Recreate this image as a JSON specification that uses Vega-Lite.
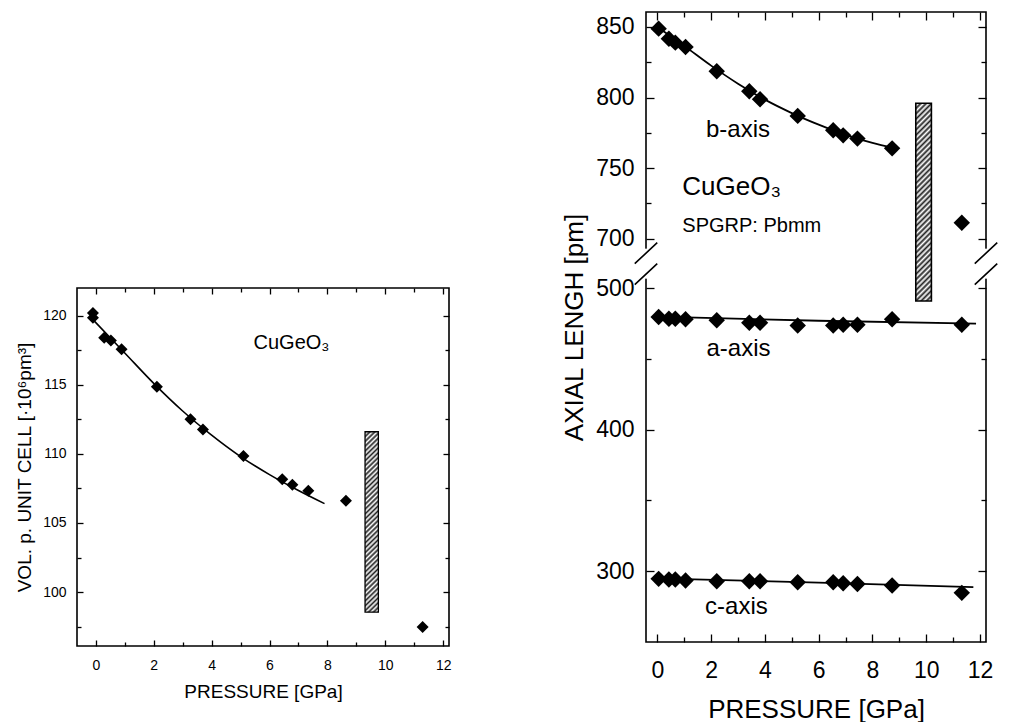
{
  "$schema": "https://vega.github.io/schema/vega-lite/v6.json",
  "background": "white",
  "padding": {"left": 14, "top": 10, "right": 0, "bottom": 0},
  "config": {
    "font": "Liberation Sans",
    "view": {"stroke": "black", "strokeWidth": 1.6},
    "axis": {"grid": false, "domain": false, "tickColor": "black", "tickWidth": 1.3, "labelColor": "black", "titleColor": "black", "titleFontWeight": "normal", "labelFont": "Liberation Sans", "titleFont": "Liberation Sans"},
    "text": {"font": "Liberation Sans", "color": "black"}
  },
  "hconcat": [
    {
      "spacing": 10,
      "vconcat": [
        {"width": 372, "height": 264, "view": {"stroke": null}, "data": {"values": []}, "mark": "text", "encoding": {}},
        {
          "width": 372, "height": 358,
          "resolve": {"axis": {"x": "independent", "y": "independent"}},
          "layer": [
            {
              "data": {"values": [{"P1": 9.3, "P2": 9.76, "V1": 98.55, "V2": 111.6}]},
              "mark": {"type": "rect", "stroke": "black", "strokeWidth": 1.3, "fill": {"gradient": "linear", "x1": 0, "y1": 0, "x2": 0.077, "y2": 1.067, "stops": [
                {"offset": 0, "color": "#222"}, {"offset": 0.0125, "color": "#fff"}, {"offset": 0.025, "color": "#222"}, {"offset": 0.0375, "color": "#fff"}, {"offset": 0.05, "color": "#222"}, {"offset": 0.0625, "color": "#fff"}, {"offset": 0.075, "color": "#222"}, {"offset": 0.0875, "color": "#fff"}, {"offset": 0.1, "color": "#222"}, {"offset": 0.1125, "color": "#fff"}, {"offset": 0.125, "color": "#222"}, {"offset": 0.1375, "color": "#fff"}, {"offset": 0.15, "color": "#222"}, {"offset": 0.1625, "color": "#fff"}, {"offset": 0.175, "color": "#222"}, {"offset": 0.1875, "color": "#fff"}, {"offset": 0.2, "color": "#222"}, {"offset": 0.2125, "color": "#fff"}, {"offset": 0.225, "color": "#222"}, {"offset": 0.2375, "color": "#fff"}, {"offset": 0.25, "color": "#222"}, {"offset": 0.2625, "color": "#fff"}, {"offset": 0.275, "color": "#222"}, {"offset": 0.2875, "color": "#fff"}, {"offset": 0.3, "color": "#222"}, {"offset": 0.3125, "color": "#fff"}, {"offset": 0.325, "color": "#222"}, {"offset": 0.3375, "color": "#fff"}, {"offset": 0.35, "color": "#222"}, {"offset": 0.3625, "color": "#fff"}, {"offset": 0.375, "color": "#222"}, {"offset": 0.3875, "color": "#fff"}, {"offset": 0.4, "color": "#222"}, {"offset": 0.4125, "color": "#fff"}, {"offset": 0.425, "color": "#222"}, {"offset": 0.4375, "color": "#fff"}, {"offset": 0.45, "color": "#222"}, {"offset": 0.4625, "color": "#fff"}, {"offset": 0.475, "color": "#222"}, {"offset": 0.4875, "color": "#fff"}, {"offset": 0.5, "color": "#222"}, {"offset": 0.5125, "color": "#fff"}, {"offset": 0.525, "color": "#222"}, {"offset": 0.5375, "color": "#fff"}, {"offset": 0.55, "color": "#222"}, {"offset": 0.5625, "color": "#fff"}, {"offset": 0.575, "color": "#222"}, {"offset": 0.5875, "color": "#fff"}, {"offset": 0.6, "color": "#222"}, {"offset": 0.6125, "color": "#fff"}, {"offset": 0.625, "color": "#222"}, {"offset": 0.6375, "color": "#fff"}, {"offset": 0.65, "color": "#222"}, {"offset": 0.6625, "color": "#fff"}, {"offset": 0.675, "color": "#222"}, {"offset": 0.6875, "color": "#fff"}, {"offset": 0.7, "color": "#222"}, {"offset": 0.7125, "color": "#fff"}, {"offset": 0.725, "color": "#222"}, {"offset": 0.7375, "color": "#fff"}, {"offset": 0.75, "color": "#222"}, {"offset": 0.7625, "color": "#fff"}, {"offset": 0.775, "color": "#222"}, {"offset": 0.7875, "color": "#fff"}, {"offset": 0.8, "color": "#222"}, {"offset": 0.8125, "color": "#fff"}, {"offset": 0.825, "color": "#222"}, {"offset": 0.8375, "color": "#fff"}, {"offset": 0.85, "color": "#222"}, {"offset": 0.8625, "color": "#fff"}, {"offset": 0.875, "color": "#222"}, {"offset": 0.8875, "color": "#fff"}, {"offset": 0.9, "color": "#222"}, {"offset": 0.9125, "color": "#fff"}, {"offset": 0.925, "color": "#222"}, {"offset": 0.9375, "color": "#fff"}, {"offset": 0.95, "color": "#222"}, {"offset": 0.9625, "color": "#fff"}, {"offset": 0.975, "color": "#222"}, {"offset": 0.9875, "color": "#fff"}, {"offset": 1, "color": "#222"}]}},
              "encoding": {
                "x": {"field": "P1", "type": "quantitative", "scale": {"domain": [-0.65, 12.2], "nice": false, "zero": false}, "axis": {"orient": "top", "values": [0, 2, 4, 6, 8, 10, 12], "tickSize": -6, "labels": false, "title": null}},
                "x2": {"field": "P2"},
                "y": {"field": "V1", "type": "quantitative", "scale": {"domain": [96.1, 122.0], "nice": false, "zero": false}, "axis": {"orient": "right", "values": [100, 105, 110, 115, 120], "tickSize": -6, "labels": false, "title": null}},
                "y2": {"field": "V2"}
              }
            },
            {
              "data": {"values": [
                {"P": -0.05, "V": 119.6}, {"P": 1, "V": 117.3}, {"P": 2, "V": 115.1}, {"P": 3, "V": 113.1}, {"P": 4, "V": 111.35}, {"P": 5, "V": 109.8}, {"P": 6, "V": 108.5}, {"P": 7, "V": 107.35}, {"P": 7.9, "V": 106.4}
              ]},
              "mark": {"type": "line", "color": "black", "strokeWidth": 1.6, "interpolate": "monotone"},
              "encoding": {
                "x": {"field": "P", "type": "quantitative", "scale": {"domain": [-0.65, 12.2], "nice": false, "zero": false}, "axis": {"orient": "bottom", "values": [1, 3, 5, 7, 9, 11], "tickSize": -4, "labels": false, "title": null}},
                "y": {"field": "V", "type": "quantitative", "scale": {"domain": [96.1, 122.0], "nice": false, "zero": false}, "axis": {"orient": "left", "values": [97.5, 102.5, 107.5, 112.5, 117.5], "tickSize": -4, "labels": false, "title": null}}
              }
            },
            {
              "data": {"values": [
                {"P": -0.1, "V": 120.2}, {"P": -0.1, "V": 119.85}, {"P": 0.29, "V": 118.4}, {"P": 0.52, "V": 118.2}, {"P": 0.89, "V": 117.56}, {"P": 2.11, "V": 114.86}, {"P": 3.27, "V": 112.5}, {"P": 3.7, "V": 111.77}, {"P": 5.1, "V": 109.84}, {"P": 6.44, "V": 108.17}, {"P": 6.79, "V": 107.76}, {"P": 7.34, "V": 107.33}, {"P": 8.64, "V": 106.6}, {"P": 11.29, "V": 97.47}
              ]},
              "mark": {"type": "point", "shape": "diamond", "filled": true, "color": "black", "opacity": 1, "size": 144},
              "encoding": {
                "x": {"field": "P", "type": "quantitative", "scale": {"domain": [-0.65, 12.2], "nice": false, "zero": false}, "axis": {"orient": "bottom", "values": [0, 2, 4, 6, 8, 10, 12], "tickSize": -6, "labelPadding": 18, "labelFontSize": 14, "title": "PRESSURE [GPa]", "titleFontSize": 19, "titlePadding": 10}},
                "y": {"field": "V", "type": "quantitative", "scale": {"domain": [96.1, 122.0], "nice": false, "zero": false}, "axis": {"orient": "left", "values": [100, 105, 110, 115, 120], "tickSize": -6, "labelPadding": 17, "labelFontSize": 14, "title": "VOL. p. UNIT CELL [·10⁶pm³]", "titleFontSize": 19, "titlePadding": 8}}
              }
            },
            {
              "data": {"values": [{"P": 6.76, "V": 118.0, "label": "CuGeO₃"}]},
              "mark": {"type": "text", "fontSize": 20, "align": "center", "baseline": "middle"},
              "encoding": {
                "x": {"field": "P", "type": "quantitative", "scale": {"domain": [-0.65, 12.2], "nice": false, "zero": false}, "axis": {"orient": "top", "values": [1, 3, 5, 7, 9, 11], "tickSize": -4, "labels": false, "title": null}},
                "y": {"field": "V", "type": "quantitative", "scale": {"domain": [96.1, 122.0], "nice": false, "zero": false}, "axis": {"orient": "right", "values": [97.5, 102.5, 107.5, 112.5, 117.5], "tickSize": -4, "labels": false, "title": null}},
                "text": {"field": "label"}
              }
            }
          ]
        }
      ]
    },
    {
      "width": 340, "height": 630,
      "resolve": {"axis": {"x": "independent", "y": "independent"}},
      "layer": [
        {
          "data": {"values": [{"P1": 9.61, "P2": 10.19, "L1": 490.8, "L2": 796}]},
          "mark": {"type": "rect", "stroke": "black", "strokeWidth": 1.6, "fill": {"gradient": "linear", "x1": 0, "y1": 0, "x2": 0.085, "y2": 1.074, "stops": [
            {"offset": 0, "color": "#222"}, {"offset": 0.0125, "color": "#fff"}, {"offset": 0.025, "color": "#222"}, {"offset": 0.0375, "color": "#fff"}, {"offset": 0.05, "color": "#222"}, {"offset": 0.0625, "color": "#fff"}, {"offset": 0.075, "color": "#222"}, {"offset": 0.0875, "color": "#fff"}, {"offset": 0.1, "color": "#222"}, {"offset": 0.1125, "color": "#fff"}, {"offset": 0.125, "color": "#222"}, {"offset": 0.1375, "color": "#fff"}, {"offset": 0.15, "color": "#222"}, {"offset": 0.1625, "color": "#fff"}, {"offset": 0.175, "color": "#222"}, {"offset": 0.1875, "color": "#fff"}, {"offset": 0.2, "color": "#222"}, {"offset": 0.2125, "color": "#fff"}, {"offset": 0.225, "color": "#222"}, {"offset": 0.2375, "color": "#fff"}, {"offset": 0.25, "color": "#222"}, {"offset": 0.2625, "color": "#fff"}, {"offset": 0.275, "color": "#222"}, {"offset": 0.2875, "color": "#fff"}, {"offset": 0.3, "color": "#222"}, {"offset": 0.3125, "color": "#fff"}, {"offset": 0.325, "color": "#222"}, {"offset": 0.3375, "color": "#fff"}, {"offset": 0.35, "color": "#222"}, {"offset": 0.3625, "color": "#fff"}, {"offset": 0.375, "color": "#222"}, {"offset": 0.3875, "color": "#fff"}, {"offset": 0.4, "color": "#222"}, {"offset": 0.4125, "color": "#fff"}, {"offset": 0.425, "color": "#222"}, {"offset": 0.4375, "color": "#fff"}, {"offset": 0.45, "color": "#222"}, {"offset": 0.4625, "color": "#fff"}, {"offset": 0.475, "color": "#222"}, {"offset": 0.4875, "color": "#fff"}, {"offset": 0.5, "color": "#222"}, {"offset": 0.5125, "color": "#fff"}, {"offset": 0.525, "color": "#222"}, {"offset": 0.5375, "color": "#fff"}, {"offset": 0.55, "color": "#222"}, {"offset": 0.5625, "color": "#fff"}, {"offset": 0.575, "color": "#222"}, {"offset": 0.5875, "color": "#fff"}, {"offset": 0.6, "color": "#222"}, {"offset": 0.6125, "color": "#fff"}, {"offset": 0.625, "color": "#222"}, {"offset": 0.6375, "color": "#fff"}, {"offset": 0.65, "color": "#222"}, {"offset": 0.6625, "color": "#fff"}, {"offset": 0.675, "color": "#222"}, {"offset": 0.6875, "color": "#fff"}, {"offset": 0.7, "color": "#222"}, {"offset": 0.7125, "color": "#fff"}, {"offset": 0.725, "color": "#222"}, {"offset": 0.7375, "color": "#fff"}, {"offset": 0.75, "color": "#222"}, {"offset": 0.7625, "color": "#fff"}, {"offset": 0.775, "color": "#222"}, {"offset": 0.7875, "color": "#fff"}, {"offset": 0.8, "color": "#222"}, {"offset": 0.8125, "color": "#fff"}, {"offset": 0.825, "color": "#222"}, {"offset": 0.8375, "color": "#fff"}, {"offset": 0.85, "color": "#222"}, {"offset": 0.8625, "color": "#fff"}, {"offset": 0.875, "color": "#222"}, {"offset": 0.8875, "color": "#fff"}, {"offset": 0.9, "color": "#222"}, {"offset": 0.9125, "color": "#fff"}, {"offset": 0.925, "color": "#222"}, {"offset": 0.9375, "color": "#fff"}, {"offset": 0.95, "color": "#222"}, {"offset": 0.9625, "color": "#fff"}, {"offset": 0.975, "color": "#222"}, {"offset": 0.9875, "color": "#fff"}, {"offset": 1, "color": "#222"}]}},
          "encoding": {
            "x": {"field": "P1", "type": "quantitative", "scale": {"domain": [-0.42, 12.22], "nice": false, "zero": false}, "axis": {"orient": "top", "values": [0, 2, 4, 6, 8, 10, 12], "tickSize": -8, "labels": false, "title": null}},
            "x2": {"field": "P2"},
            "y": {"field": "L1", "type": "quantitative", "scale": {"domain": [250, 506.6, 692.9, 860.6], "range": [630, 266.7, 236.7, 0], "nice": false, "zero": false}, "axis": {"orient": "right", "values": [300, 400, 500, 700, 750, 800, 850], "tickSize": -8, "labels": false, "title": null}},
            "y2": {"field": "L2"}
          }
        },
        {
          "data": {"values": [
            {"series": "b", "P": 0.05, "L": 849.3}, {"series": "b", "P": 1, "L": 836.6}, {"series": "b", "P": 2, "L": 822.6}, {"series": "b", "P": 3, "L": 809.8}, {"series": "b", "P": 4, "L": 798.5}, {"series": "b", "P": 5, "L": 789}, {"series": "b", "P": 6, "L": 780.8}, {"series": "b", "P": 7, "L": 773.6}, {"series": "b", "P": 8, "L": 767.8}, {"series": "b", "P": 8.77, "L": 764.2},
            {"series": "a", "P": -0.05, "L": 479.8}, {"series": "a", "P": 6, "L": 476.9}, {"series": "a", "P": 11.85, "L": 474.8},
            {"series": "c", "P": -0.1, "L": 295}, {"series": "c", "P": 6, "L": 292}, {"series": "c", "P": 11.75, "L": 288.7}
          ]},
          "mark": {"type": "line", "color": "black", "strokeWidth": 1.8, "interpolate": "monotone"},
          "encoding": {
            "detail": {"field": "series"},
            "x": {"field": "P", "type": "quantitative", "scale": {"domain": [-0.42, 12.22], "nice": false, "zero": false}, "axis": {"orient": "bottom", "values": [1, 3, 5, 7, 9, 11], "tickSize": -5, "labels": false, "title": null}},
            "y": {"field": "L", "type": "quantitative", "scale": {"domain": [250, 506.6, 692.9, 860.6], "range": [630, 266.7, 236.7, 0], "nice": false, "zero": false}, "axis": {"orient": "left", "values": [350, 450, 725, 775, 825], "tickSize": -5, "labels": false, "title": null}}
          }
        },
        {
          "data": {"values": [
            {"series": "b", "P": 0.05, "L": 848.8}, {"series": "b", "P": 0.43, "L": 841.7}, {"series": "b", "P": 0.67, "L": 838.9}, {"series": "b", "P": 1.05, "L": 835.8}, {"series": "b", "P": 2.21, "L": 818.6}, {"series": "b", "P": 3.42, "L": 804.4}, {"series": "b", "P": 3.82, "L": 798.8}, {"series": "b", "P": 5.22, "L": 787}, {"series": "b", "P": 6.54, "L": 776.8}, {"series": "b", "P": 6.91, "L": 773.2}, {"series": "b", "P": 7.44, "L": 770.9}, {"series": "b", "P": 8.73, "L": 764}, {"series": "b", "P": 11.32, "L": 711.3},
            {"series": "a", "P": 0.05, "L": 479.5}, {"series": "a", "P": 0.43, "L": 478.3}, {"series": "a", "P": 0.67, "L": 478.3}, {"series": "a", "P": 1.05, "L": 477.9}, {"series": "a", "P": 2.21, "L": 477.2}, {"series": "a", "P": 3.42, "L": 475.5}, {"series": "a", "P": 3.82, "L": 475.5}, {"series": "a", "P": 5.22, "L": 473.6}, {"series": "a", "P": 6.54, "L": 473.6}, {"series": "a", "P": 6.91, "L": 474.1}, {"series": "a", "P": 7.44, "L": 474.1}, {"series": "a", "P": 8.73, "L": 477.9}, {"series": "a", "P": 11.32, "L": 474.1},
            {"series": "c", "P": 0.05, "L": 294.6}, {"series": "c", "P": 0.43, "L": 294.1}, {"series": "c", "P": 0.67, "L": 294.1}, {"series": "c", "P": 1.05, "L": 293.4}, {"series": "c", "P": 2.21, "L": 292.9}, {"series": "c", "P": 3.42, "L": 292.9}, {"series": "c", "P": 3.82, "L": 292.9}, {"series": "c", "P": 5.22, "L": 292.2}, {"series": "c", "P": 6.54, "L": 292.2}, {"series": "c", "P": 6.91, "L": 291.5}, {"series": "c", "P": 7.44, "L": 291.0}, {"series": "c", "P": 8.73, "L": 289.9}, {"series": "c", "P": 11.32, "L": 284.7}
          ]},
          "mark": {"type": "point", "shape": "diamond", "filled": true, "color": "black", "opacity": 1, "size": 270},
          "encoding": {
            "x": {"field": "P", "type": "quantitative", "scale": {"domain": [-0.42, 12.22], "nice": false, "zero": false}, "axis": {"orient": "bottom", "values": [0, 2, 4, 6, 8, 10, 12], "tickSize": -8, "labelPadding": 25, "labelFontSize": 23, "title": "PRESSURE [GPa]", "titleFontSize": 26, "titlePadding": 14}},
            "y": {"field": "L", "type": "quantitative", "scale": {"domain": [250, 506.6, 692.9, 860.6], "range": [630, 266.7, 236.7, 0], "nice": false, "zero": false}, "axis": {"orient": "left", "values": [300, 400, 500, 700, 750, 800, 850], "tickSize": -8, "labelPadding": 20, "labelFontSize": 23, "title": "AXIAL LENGH [pm]", "titleFontSize": 26, "titlePadding": 8}}
          }
        },
        {
          "data": {"values": [{"P": 3.0, "L": 777, "label": "b-axis"}, {"P": 3.02, "L": 457, "label": "a-axis"}, {"P": 2.94, "L": 274.5, "label": "c-axis"}]},
          "mark": {"type": "text", "fontSize": 24, "align": "center", "baseline": "middle"},
          "encoding": {
            "x": {"field": "P", "type": "quantitative", "scale": {"domain": [-0.42, 12.22], "nice": false, "zero": false}, "axis": {"orient": "top", "values": [1, 3, 5, 7, 9, 11], "tickSize": -5, "labels": false, "title": null}},
            "y": {"field": "L", "type": "quantitative", "scale": {"domain": [250, 506.6, 692.9, 860.6], "range": [630, 266.7, 236.7, 0], "nice": false, "zero": false}, "axis": {"orient": "right", "values": [350, 450, 725, 775, 825], "tickSize": -5, "labels": false, "title": null}},
            "text": {"field": "label"}
          }
        },
        {
          "data": {"values": [{"P": 0.93, "L": 736.5, "label": "CuGeO₃"}]},
          "mark": {"type": "text", "fontSize": 26, "align": "left", "baseline": "middle"},
          "encoding": {
            "x": {"field": "P", "type": "quantitative", "axis": null},
            "y": {"field": "L", "type": "quantitative", "axis": null},
            "text": {"field": "label"}
          }
        },
        {
          "data": {"values": [{"P": 0.93, "L": 709, "label": "SPGRP: Pbmm"}]},
          "mark": {"type": "text", "fontSize": 20, "align": "left", "baseline": "middle"},
          "encoding": {
            "x": {"field": "P", "type": "quantitative", "axis": null},
            "y": {"field": "L", "type": "quantitative", "axis": null},
            "text": {"field": "label"}
          }
        },
        {
          "data": {"values": [{"P": -0.42, "L": 600}, {"P": 12.22, "L": 600}]},
          "mark": {"type": "point", "shape": "M-0.3,-1L0.3,-1L0.3,1L-0.3,1Z", "filled": true, "color": "white", "opacity": 1, "strokeWidth": 0, "size": 900},
          "encoding": {
            "x": {"field": "P", "type": "quantitative", "axis": null},
            "y": {"field": "L", "type": "quantitative", "axis": null}
          }
        },
        {
          "data": {"values": [{"P": -0.42, "L": 600}, {"P": 12.22, "L": 600}]},
          "mark": {"type": "point", "shape": "M-0.75,0L0.75,-1.4M-0.75,1.4L0.75,0", "filled": false, "color": "black", "opacity": 1, "strokeWidth": 1.6, "size": 900},
          "encoding": {
            "x": {"field": "P", "type": "quantitative", "axis": null},
            "y": {"field": "L", "type": "quantitative", "axis": null}
          }
        }
      ]
    }
  ],
  "spacing": 108
}
